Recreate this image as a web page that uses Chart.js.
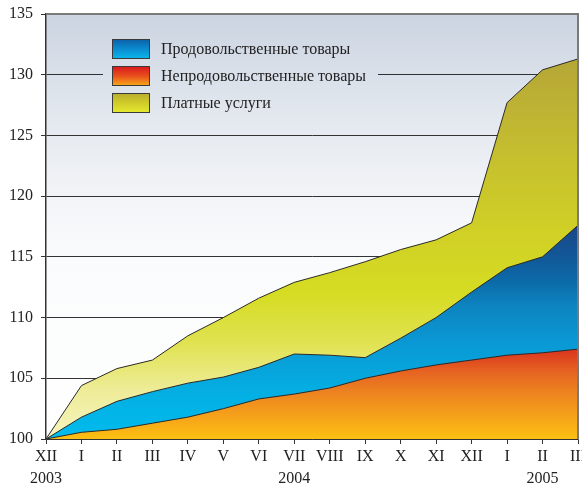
<!DOCTYPE html>
<html><head><meta charset="utf-8">
<script src="https://cdn.jsdelivr.net/npm/chart.js@4"></script>
<style>html,body{margin:0;padding:0;background:#fff;}#wrap{width:582px;height:485px;position:relative;}</style>
</head><body><div id="wrap"><canvas id="c" width="582" height="485"></canvas></div>
<script>
const months = ['XII','I','II','III','IV','V','VI','VII','VIII','IX','X','XI','XII','I','II','III'];
const yearLabels = {0:'2003', 7:'2004', 14:'2005'};
const services = [100,104.4,105.8,106.5,108.5,110.0,111.6,112.9,113.7,114.6,115.6,116.4,117.8,127.7,130.4,131.3];
const food = [100,101.8,103.1,103.9,104.6,105.1,105.9,107.0,106.9,106.7,108.3,110.0,112.1,114.1,115.0,117.6];
const nonfood = [100,100.55,100.8,101.3,101.8,102.5,103.3,103.7,104.2,105.0,105.6,106.1,106.5,106.9,107.1,107.4];
const legendNames = ['Продовольственные товары','Непродовольственные товары','Платные услуги'];
const yTicks = [100,105,110,115,120,125,130,135];

const FONT = '"Liberation Serif","DejaVu Serif",serif';
const labels = months.map((m,i)=> yearLabels[i] ? [m, yearLabels[i]] : [m]);

function vgrad(chart, stops){
  const a = chart.chartArea; if(!a) return null;
  const ys = chart.scales.y;
  const g = chart.ctx.createLinearGradient(0, ys.getPixelForValue(100), 0, ys.getPixelForValue(135));
  stops.forEach(s=>g.addColorStop((s[0]-100)/35, s[1]));
  return g;
}
const servStops = [[100,'#f6f4c0'],[104,'#eeec98'],[108,'#e0e250'],[112,'#d6dc22'],[117,'#d0d026'],[123,'#c6c02e'],[130,'#b8aa36'],[135,'#b0a038']];
const foodStops = [[100,'#00bcee'],[104,'#04aee2'],[108,'#0a98d4'],[111,'#0d84c0'],[113,'#0c6aa8'],[115,'#125898'],[118,'#1b4486'],[135,'#1b4486']];
const redStops = [[100,'#fcc012'],[102,'#f5a01a'],[104,'#ec8020'],[105.5,'#e66422'],[107,'#dc3e1e'],[108,'#d82a1c'],[135,'#d82a1c']];
const bgStops = [[100,'#ffffff'],[115,'#fafbfc'],[120,'#f2f4f7'],[127,'#e2e7ee'],[135,'#cbd4e1']];

const legendPlugin = {
  id:'legendBox',
  beforeDraw(chart){
    const a = chart.chartArea, ctx = chart.ctx;
    ctx.save();
    ctx.fillStyle = vgrad(chart,bgStops);
    ctx.fillRect(a.left,a.top,a.right-a.left,a.bottom-a.top);
    ctx.restore();
  },
  afterDraw(chart){
    const a = chart.chartArea, ctx = chart.ctx;
    ctx.save();
    ctx.fillStyle = vgrad(chart,bgStops);
    ctx.fillRect(103, 33, 275, 85);
    const boxes = [
      [['#0d5ea6',0],['#0a8cd0',0.5],['#0ab8ea',1]],
      [['#d8141e',0],['#e8501c',0.5],['#f8ac18',1]],
      [['#b8ac2e',0],['#d0cc2a',0.5],['#e6ea30',1]]
    ];
    boxes.forEach((st,i)=>{
      const y = 39 + i*27;
      const g = ctx.createLinearGradient(0,y,0,y+20);
      st.forEach(s=>g.addColorStop(s[1],s[0]));
      ctx.fillStyle = g;
      ctx.fillRect(112,y,38,20);
      ctx.strokeStyle = '#3a3a3a'; ctx.lineWidth = 1;
      ctx.strokeRect(112.5,y+0.5,37,19);
      ctx.fillStyle = '#222';
      ctx.font = '16px '+FONT;
      ctx.textBaseline = 'middle';
      ctx.fillText(legendNames[i], 161, y+10.5);
    });
    ctx.strokeStyle = '#7a7a7a'; ctx.lineWidth = 2;
    ctx.beginPath();
    ctx.moveTo(a.left, a.top); ctx.lineTo(a.right, a.top); ctx.lineTo(a.right, a.bottom);
    ctx.stroke();
    ctx.restore();
  }
};

new Chart(document.getElementById('c'), {
  type:'line',
  data:{labels, datasets:[
    {label:legendNames[1], data:nonfood, order:1, fill:'origin', borderColor:'#2a2a2a', borderWidth:1, pointRadius:0, tension:0,
      backgroundColor: c=>vgrad(c.chart, redStops)},
    {label:legendNames[0], data:food, order:2, fill:'origin', borderColor:'#2a2a2a', borderWidth:1, pointRadius:0, tension:0,
      backgroundColor: c=>vgrad(c.chart, foodStops)},
    {label:legendNames[2], data:services, order:3, fill:'origin', borderColor:'#2a2a2a', borderWidth:1, pointRadius:0, tension:0,
      backgroundColor: c=>vgrad(c.chart, servStops)}
  ]},
  options:{
    responsive:false, animation:false, devicePixelRatio:1,
    layout:{padding:{top:14,right:4,left:0,bottom:0}},
    plugins:{legend:{display:false}, tooltip:{enabled:false}},
    scales:{
      x:{ offset:false, z:1,
        grid:{drawOnChartArea:false, drawTicks:true, tickLength:5, color:'#333', lineWidth:1},
        border:{color:'#333', width:1.5},
        ticks:{color:'#222', font:{family:FONT,size:16,lineHeight:1.38}, padding:2, maxRotation:0, autoSkip:false},
        afterFit:s=>{s.height=46; s.paddingLeft=0; s.paddingRight=0;}
      },
      y:{ min:100, max:135, z:1,
        afterBuildTicks:s=>{s.ticks = yTicks.map(v=>({value:v}));},
        grid:{color:'#333', lineWidth:1, tickLength:5},
        border:{color:'#333', width:1.5},
        ticks:{color:'#222', font:{family:FONT,size:16}, padding:8},
        afterFit:s=>{s.width=46; s.paddingTop=0; s.paddingBottom=0;}
      }
    }
  },
  plugins:[legendPlugin]
});
</script></body></html>
